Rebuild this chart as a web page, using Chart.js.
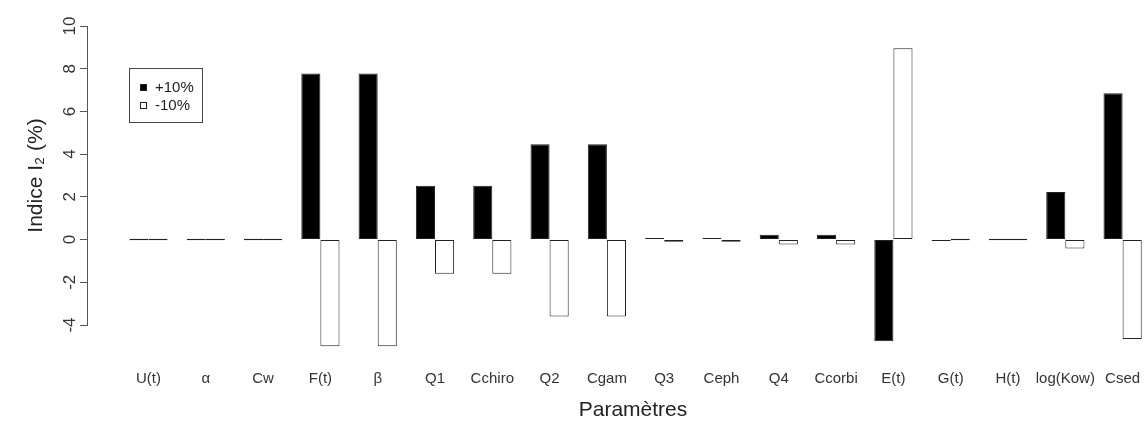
<!DOCTYPE html>
<html>
<head>
<meta charset="utf-8">
<script src="https://cdn.jsdelivr.net/npm/chart.js@4"></script>
<style>
  html, body { margin: 0; padding: 0; background: #fff; overflow: hidden; }
  #cadre { position: relative; width: 1182px; height: 421px; }
  #graphique { display: block; }
  #legende {
    position: absolute; left: 129px; top: 68px; width: 74px; height: 55px;
    border: 1px solid #444; box-sizing: border-box;
    font-family: "Liberation Sans", Arial, sans-serif; font-size: 15px; color: #222;
    padding-top: 9px; padding-left: 10px;
  }
  #legende div { height: 18px; line-height: 18px; display: flex; align-items: center; }
  #legende span.carre { display: inline-block; width: 7px; height: 7px; box-sizing: border-box; margin-right: 8px; }
</style>
</head>
<body>
<div id="cadre">
  <canvas id="graphique" width="1182" height="421"></canvas>
  <div id="legende"></div>
</div>
<script>
// parametres testes (axe x)
const parametres = ['U(t)', 'α', 'Cw', 'F(t)', 'β', 'Q1', 'Cchiro', 'Q2', 'Cgam', 'Q3',
  'Ceph', 'Q4', 'Ccorbi', 'E(t)', 'G(t)', 'H(t)', 'log(Kow)', 'Csed'];

// indice I2 (%)
const plus10 = [0, 0, 0, 7.78, 7.78, 2.52, 2.52, 4.46, 4.46, 0.05, 0.05, 0.23, 0.23, -4.76, -0.05, 0, 2.23, 6.85];
const moins10 = [0, 0, 0, -5.0, -5.0, -1.6, -1.6, -3.6, -3.6, -0.1, -0.1, -0.23, -0.23, 8.96, 0, 0, -0.42, -4.65];

const graduationsY = [-4, -2, 0, 2, 4, 6, 8, 10];

const police = '"Liberation Sans", Arial, sans-serif';

const graphique = new Chart(document.getElementById('graphique'), {
  type: 'bar',
  data: {
    labels: parametres.map((_, i) => i),
    datasets: [
      {
        label: '+10%',
        data: plus10,
        backgroundColor: '#000',
        borderColor: '#222',
        borderWidth: 1,
        borderSkipped: false,
        minBarLength: 1.5,
        clip: false
      },
      {
        label: '-10%',
        data: moins10,
        backgroundColor: '#fff',
        borderColor: '#222',
        borderWidth: 1,
        borderSkipped: false,
        minBarLength: 1.5,
        clip: false
      }
    ]
  },
  options: {
    responsive: false,
    animation: false,
    categoryPercentage: 2 / 3,
    barPercentage: 1,
    layout: { padding: { top: 26, right: 3, left: 0, bottom: 0 } },
    plugins: { legend: { display: false }, tooltip: { enabled: false } },
    scales: {
      x: {
        type: 'linear',
        offset: false,
        min: -1.073,
        max: 17.984,
        grid: { display: false },
        border: { display: false },
        afterBuildTicks: (axe) => { axe.ticks = parametres.map((_, i) => ({ value: i })); },
        afterFit: (axe) => { axe.height = 96; },
        ticks: {
          autoSkip: false,
          maxRotation: 0,
          minRotation: 0,
          padding: 37,
          color: '#333',
          font: { family: police, size: 15 },
          callback: (v) => parametres[v]
        },
        title: {
          display: true,
          text: 'Paramètres',
          color: '#222',
          font: { family: police, size: 21 },
          padding: { top: 0, bottom: -2 }
        }
      },
      y: {
        min: -4,
        max: 10,
        afterBuildTicks: (axe) => { axe.ticks = graduationsY.map(v => ({ value: v })); },
        afterFit: (axe) => { axe.width = 87; },
        grid: { drawOnChartArea: false, drawTicks: true, tickLength: 7, color: '#555' },
        border: { display: true, color: '#555' },
        ticks: {
          minRotation: 90,
          maxRotation: 90,
          crossAlign: 'center',
          padding: 0,
          color: '#333',
          font: { family: police, size: 17 }
        },
        title: {
          display: true,
          text: 'Indice I₂ (%)',
          color: '#222',
          font: { family: police, size: 21 },
          padding: { top: 24, bottom: 0 }
        }
      }
    }
  }
});

// legende en html, faite a partir des jeux de donnees
document.getElementById('legende').innerHTML = graphique.data.datasets.map(ds => `
  <div><span class="carre" style="background:${ds.backgroundColor};border:1px solid ${ds.borderColor}"></span>${ds.label}</div>
`).join('');
</script>
</body>
</html>
